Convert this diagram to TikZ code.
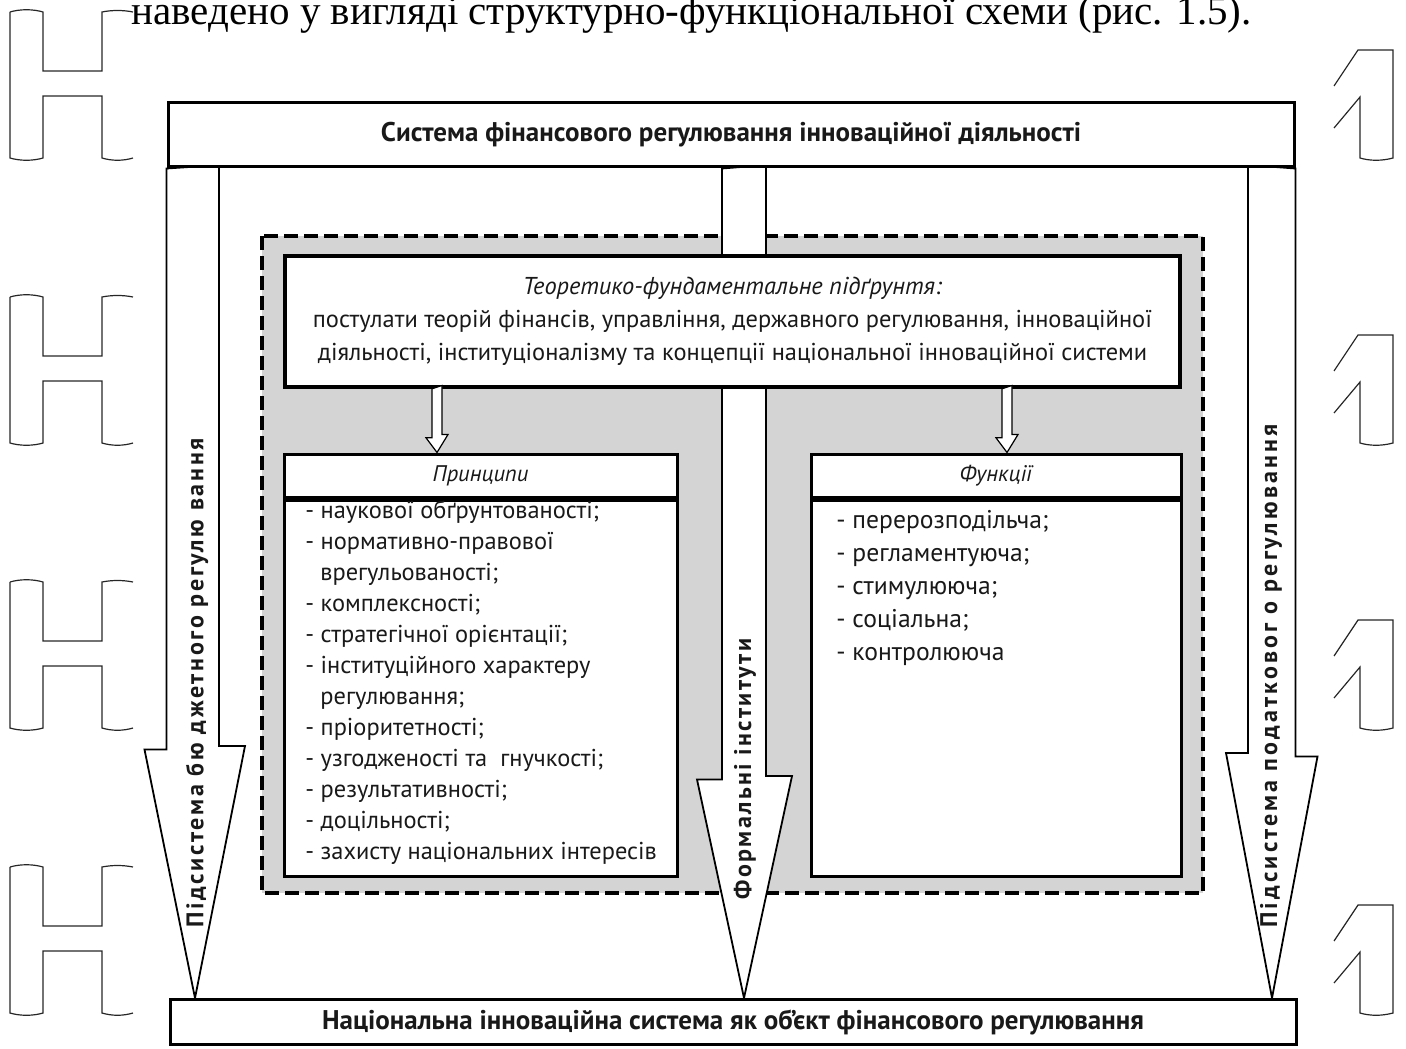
\documentclass[tikz,border=0pt]{standalone}
\usepackage{fontspec}
\setmainfont{PT Sans}
\newfontfamily\captionfont{Liberation Serif}
\usetikzlibrary{backgrounds}

\tikzset{
  boxframe/.style={draw=black,line width=1.5pt,fill=white,inner sep=0pt},
  bigarrow/.style={draw=black,line width=0.9pt,fill=white,line join=miter},
  smallarrow/.style={draw=black,line width=0.6pt,fill=white},
  zone/.style={draw=black,line width=2pt,fill=black!17,dash pattern=on 7pt off 3pt},
  vlabel/.style={rotate=90,inner sep=0pt,font=\fontsize{12}{13}\selectfont\bfseries\addfontfeature{LetterSpace=#1}},
  listitem/.style={anchor=base west,inner sep=0pt},
  wmline/.style={draw=black!85,line width=0.6pt}
}

\begin{document}
\begin{tikzpicture}[x=0.5pt,y=-0.5pt,font=\fontsize{11}{16}\selectfont,text=black!90]
    \useasboundingbox (0,0) rectangle (1406,1048);

    % remains of the page behind the scheme
    \foreach \t in {12,297,582,867} {
        \draw[wmline] (10,{\t}) .. controls (20,{\t-3}) and (33,{\t-3}) .. (43,{\t}) -- (43,{\t+59}) -- (102,{\t+59}) -- (102,{\t}) .. controls (112,{\t-2}) and (123,{\t-2}) .. (133,{\t});
        \draw[wmline] (10,{\t}) -- (10,{\t+146}) .. controls (20,{\t+149}) and (33,{\t+149}) .. (43,{\t+146}) -- (43,{\t+84}) -- (102,{\t+84}) -- (102,{\t+146}) .. controls (112,{\t+149}) and (123,{\t+149}) .. (133,{\t+146});
    }
    \foreach \t in {50,335,620,905} {
        \draw[wmline] (1334,{\t+36}) -- (1358,{\t}) -- (1393,{\t}) -- (1393,{\t+108}) .. controls (1382,{\t+111}) and (1370,{\t+111}) .. (1360,{\t+108}) -- (1360,{\t+47}) -- (1334,{\t+78});
    }
    \node[anchor=base west,inner sep=0pt,text=black,font=\captionfont\fontsize{20.5}{22}\selectfont] (caption) at (131,25) {наведено у вигляді структурно-функціональної схеми (рис. 1.5).};

    % top and bottom
    \node[boxframe,minimum width=563pt,minimum height=32pt,font=\fontsize{13.5}{15}\selectfont\bfseries] (system) at (731,135) {Система фінансового регулювання інноваційної діяльності};
    \node[boxframe,minimum width=563pt,minimum height=22.5pt,font=\fontsize{13.5}{15}\selectfont\bfseries] (nis) at (733,1022) {Національна інноваційна система як об’єкт фінансового регулювання};

    % inner part
    \node[boxframe,line width=1.8pt,minimum width=447.5pt,minimum height=65.5pt,align=center,font=\fontsize{12.2}{16.5}\selectfont] (theory) at (732.5,321.5) {\textit{Теоретико-фундаментальне підґрунтя:}\\ постулати теорій фінансів, управління, державного регулювання, інноваційної\\ діяльності, інституціоналізму та концепції національної інноваційної системи};

    \node[boxframe,minimum width=196.5pt,minimum height=21.5pt,font=\fontsize{11.3}{13}\selectfont\itshape] (princhead) at (480.5,475.5) {Принципи};
    \node[boxframe,minimum width=196.5pt,minimum height=188pt,anchor=north] (princbody) at (princhead.south) {};
    \node[boxframe,minimum width=185pt,minimum height=21.5pt,font=\fontsize{11.3}{13}\selectfont\itshape] (funchead) at (996,475.5) {Функції};
    \node[boxframe,minimum width=185pt,minimum height=188pt,anchor=north] (funcbody) at (funchead.south) {};

    \foreach \xx/\entry [count=\i from 0] in {305/- наукової обґрунтованості;, 305/- нормативно-правової, 320/врегульованості;, 305/- комплексності;, 305/- стратегічної орієнтації;, 305/- інституційного характеру, 320/регулювання;, 305/- пріоритетності;, 305/- узгодженості та~ гнучкості;, 305/- результативності;, 305/- доцільності;, 305/- захисту національних інтересів}
        \node[listitem,font=\fontsize{12.2}{14}\selectfont] (princ\i) at (\xx,{518+31*\i}) {\entry};
    \foreach \entry [count=\i from 0] in {- перерозподільча;, - регламентуюча;, - стимулююча;, - соціальна;, - контролююча}
        \node[listitem,font=\fontsize{12.8}{14}\selectfont] (func\i) at (836,{528+33*\i}) {\entry};

    \coordinate (leftcol) at (437,0);
    \coordinate (rightcol) at (1007,0);
    \draw[smallarrow] (theory.south -| leftcol) ++(-5,0) -- ++(0,49) -- ++(-6,0) -- (princhead.north -| leftcol) -- ++(11,-18) -- ++(-6,0) -- ++(0,-49) -- cycle;
    \draw[smallarrow] (theory.south -| rightcol) ++(-5,0) -- ++(0,49) -- ++(-6,0) -- (funchead.north -| rightcol) -- ++(11,-18) -- ++(-6,0) -- ++(0,-49) -- cycle;

    % zone and the three big arrows go underneath
    \coordinate (budcol) at (195,0);
    \coordinate (midcol) at (744,0);
    \coordinate (taxcol) at (1272,0);
    \begin{scope}[on background layer]
        \draw[zone] (262,236) rectangle (1203,893);
        \draw[bigarrow] (system.south west) -- ++(0,581) -- ++(-22,0) -- (nis.north -| budcol) -- ++(50,-252) -- ++(-26,0) -- ++(0,-581) -- cycle;
        \draw[bigarrow] (system.south -| midcol) ++(-22,0) -- ++(0,611) -- ++(-25,0) -- (nis.north -| midcol) -- ++(48,-222) -- ++(-26,0) -- ++(0,-611) -- cycle;
        \draw[bigarrow] (system.south east) -- ++(0,588) -- ++(22,0) -- (nis.north -| taxcol) -- ++(-46,-245) -- ++(22,0) -- ++(0,-588) -- cycle;
    \end{scope}

    \node[vlabel=11] (budget) at (197,683) {Підсистема бю джетного регулю вання};
    \node[vlabel=10] (formal) at (745,769) {Формальні інститути};
    \node[vlabel=13] (tax) at (1271,676) {Підсистема податковог о регулювання};
\end{tikzpicture}
\end{document}
